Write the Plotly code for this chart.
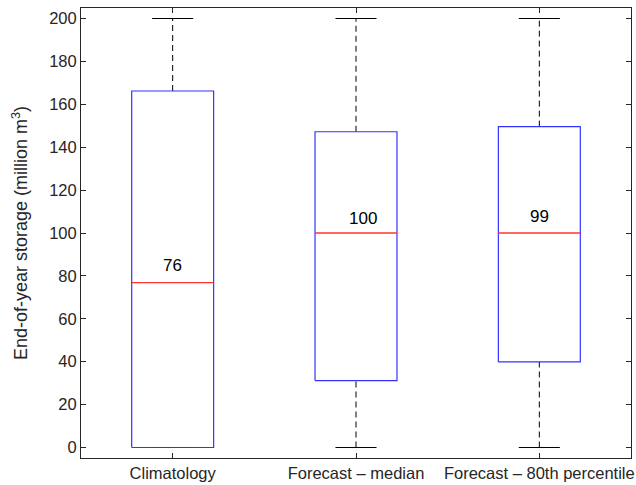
import plotly.graph_objects as go

categories = ["Climatology", "Forecast \u2013 median", "Forecast \u2013 80th percentile"]
q1 = [0.0, 31.2, 39.9]
median = [76.9, 100.0, 100.0]
q3 = [166.2, 147.2, 149.6]
lower_whisker = [0.0, 0.0, 0.0]
upper_whisker = [200.0, 200.0, 200.0]
median_labels = ["76", "100", "99"]
label_y = [84.8, 106.6, 107.5]
label_dx = [0.0, 0.04, 0.0]
y_ticks = [0, 20, 40, 60, 80, 100, 120, 140, 160, 180, 200]

half_w = 0.2235
cap_w = 0.112
font = "Liberation Sans, Arial, sans-serif"

fig = go.Figure()
for i, cat in enumerate(categories):
    x = i + 1
    # whiskers
    for a, b in ((q3[i], upper_whisker[i]), (lower_whisker[i], q1[i])):
        fig.add_trace(go.Scatter(x=[x, x], y=[a, b], mode="lines",
                                 line=dict(color="black", width=1, dash="6px,4px"),
                                 hoverinfo="skip", showlegend=False))
    for yv in (upper_whisker[i], lower_whisker[i]):
        fig.add_trace(go.Scatter(x=[x - cap_w, x + cap_w], y=[yv, yv], mode="lines",
                                 line=dict(color="black", width=1),
                                 hoverinfo="skip", showlegend=False))
    # box
    fig.add_trace(go.Scatter(x=[x - half_w, x + half_w, x + half_w, x - half_w, x - half_w],
                             y=[q1[i], q1[i], q3[i], q3[i], q1[i]], mode="lines",
                             line=dict(color="#3333ff", width=1.2),
                             hoverinfo="skip", showlegend=False))
    # median
    fig.add_trace(go.Scatter(x=[x - half_w, x + half_w], y=[median[i], median[i]], mode="lines",
                             line=dict(color="#ff3333", width=1.3),
                             hoverinfo="skip", showlegend=False))
    fig.add_annotation(x=x + label_dx[i], y=label_y[i], text=median_labels[i], showarrow=False,
                       font=dict(family=font, size=17, color="black"))

axis_common = dict(showline=True, linecolor="#262626", linewidth=1, mirror="ticks",
                   ticks="inside", ticklen=5, tickcolor="#262626", showgrid=False,
                   zeroline=False, automargin=False, ticklabeloverflow="allow",
                   tickfont=dict(family=font, size=16.5, color="#262626"))

fig.update_xaxes(range=[0.5, 3.5], tickvals=[1, 2, 3], ticktext=categories, **axis_common)
fig.update_yaxes(range=[-4.9, 204.9], tickvals=y_ticks, **axis_common,
                 title=dict(text="End-of-year storage (million m<sup>3</sup>)",
                            font=dict(family=font, size=18, color="#262626"), standoff=16))

fig.update_layout(width=636, height=485, margin=dict(l=81, r=5, t=8, b=27),
                  plot_bgcolor="white", paper_bgcolor="white")

fig.write_html("out.html")
